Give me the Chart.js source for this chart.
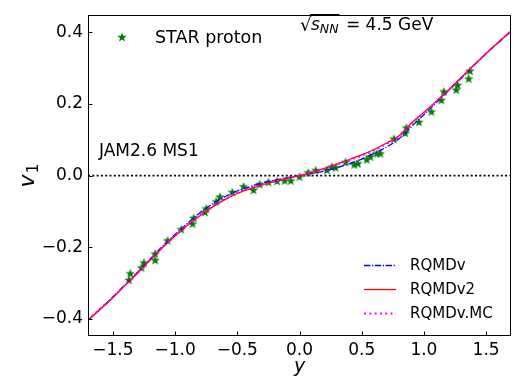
<!DOCTYPE html>
<html>
<head>
<meta charset="utf-8">
<script src="https://cdn.jsdelivr.net/npm/chart.js@4.4.1/dist/chart.umd.min.js"></script>
<style>
html,body{margin:0;padding:0;background:#fff;}
#c{display:block;}
</style>
</head>
<body>
<canvas id="c" width="523" height="392"></canvas>
<script>
// ---- data ----
const starX = [-1.37,-1.36,-1.27,-1.25,-1.16,-1.16,-1.06,-0.95,-0.86,-0.85,-0.76,-0.75,-0.67,-0.64,-0.54,-0.45,-0.37,-0.32,-0.25,-0.18,-0.12,-0.07,0.00,0.07,0.13,0.22,0.26,0.29,0.37,0.44,0.47,0.54,0.57,0.62,0.65,0.76,0.85,0.86,0.96,1.06,1.14,1.16,1.26,1.27,1.36,1.37];
const starY = [-0.291,-0.273,-0.257,-0.243,-0.236,-0.218,-0.181,-0.150,-0.134,-0.118,-0.102,-0.092,-0.072,-0.059,-0.046,-0.030,-0.040,-0.024,-0.018,-0.015,-0.014,-0.014,-0.003,0.009,0.015,0.016,0.025,0.023,0.038,0.031,0.034,0.045,0.053,0.062,0.062,0.103,0.119,0.134,0.150,0.179,0.211,0.235,0.240,0.253,0.271,0.293];

const curveX = [-1.7,-1.6,-1.5,-1.4,-1.3,-1.2,-1.1,-1.0,-0.9,-0.8,-0.7,-0.6,-0.5,-0.4,-0.3,-0.2,-0.1,0.0,0.1,0.2,0.3,0.4,0.5,0.6,0.7,0.8,0.9,1.0,1.1,1.2,1.3,1.4,1.5,1.6,1.7];
const rqmdv   = [-0.404,-0.372,-0.339,-0.304,-0.269,-0.233,-0.197,-0.164,-0.133,-0.104,-0.079,-0.059,-0.043,-0.031,-0.021,-0.013,-0.006,0.000,0.006,0.013,0.022,0.033,0.046,0.062,0.080,0.103,0.137,0.170,0.204,0.238,0.272,0.307,0.341,0.372,0.403];
const rqmdv2  = [-0.404,-0.373,-0.341,-0.306,-0.272,-0.236,-0.201,-0.169,-0.139,-0.112,-0.088,-0.067,-0.050,-0.037,-0.026,-0.017,-0.008,0.000,0.009,0.020,0.032,0.045,0.058,0.073,0.091,0.111,0.147,0.177,0.208,0.240,0.274,0.308,0.341,0.373,0.403];
const rqmdvMC = [-0.403,-0.371,-0.339,-0.305,-0.271,-0.235,-0.200,-0.167,-0.137,-0.110,-0.086,-0.065,-0.048,-0.035,-0.025,-0.016,-0.008,0.000,0.008,0.019,0.031,0.043,0.056,0.071,0.089,0.110,0.145,0.175,0.206,0.239,0.273,0.307,0.341,0.372,0.404];

const xTicks = [-1.5,-1.0,-0.5,0.0,0.5,1.0,1.5];
const yTicks = [-0.4,-0.2,0.0,0.2,0.4];
const xRange = [-1.7, 1.7];
const yRange = [-0.448, 0.448];

// ---- star marker ----
function makeStar(size, color){
  const c = document.createElement('canvas');
  c.width = size; c.height = size;
  const g = c.getContext('2d');
  const cx = size/2, cy = size/2 + 0.4, R = size/2, r = R*0.42;
  g.beginPath();
  for(let i=0;i<10;i++){
    const ang = -Math.PI/2 + i*Math.PI/5;
    const rad = (i%2===0)?R:r;
    const px = cx + rad*Math.cos(ang), py = cy + rad*Math.sin(ang);
    if(i===0) g.moveTo(px,py); else g.lineTo(px,py);
  }
  g.closePath();
  g.fillStyle = color; g.fill();
  return c;
}
const starImg = makeStar(10, '#008000');

const pts = (xs, ys) => xs.map((x,i)=>({x:x, y:ys[i]}));
const fmt = v => { const s = Number(v).toFixed(1); return (Math.abs(v)<1e-9) ? '0.0' : s.replace('-', '\u2212'); };
const FONT = 'DejaVu Sans';

const decor = {
  id: 'decor',
  afterDatasetsDraw(chart){
    const ctx = chart.ctx, a = chart.chartArea;
    const xs = chart.scales.x, ys = chart.scales.y;
    ctx.save();
    // frame
    ctx.strokeStyle = '#000'; ctx.lineWidth = 1;
    ctx.strokeRect(Math.round(a.left)+0.5, Math.round(a.top)+0.5, Math.round(a.right-a.left)-1, Math.round(a.bottom-a.top)-1);
    // inward ticks
    ctx.beginPath();
    xTicks.forEach(v=>{ const px = Math.round(xs.getPixelForValue(v))+0.5; ctx.moveTo(px, a.bottom); ctx.lineTo(px, a.bottom-4.5); });
    yTicks.forEach(v=>{ const py = Math.round(ys.getPixelForValue(v))+0.5; ctx.moveTo(a.left, py); ctx.lineTo(a.left+4.5, py); });
    ctx.stroke();

    // axis titles
    ctx.fillStyle = '#000';
    ctx.save();
    ctx.translate(27, (a.top+a.bottom)/2);
    ctx.rotate(-Math.PI/2);
    ctx.font = 'italic 22px ' + FONT;
    ctx.textBaseline = 'alphabetic';
    const vw = ctx.measureText('v').width;
    ctx.font = '15px ' + FONT;
    const ow = ctx.measureText('1').width;
    const tot = vw + ow + 1;
    ctx.font = 'italic 22px ' + FONT;
    ctx.fillText('v', -tot/2, 7);
    ctx.font = '15px ' + FONT;
    ctx.fillText('1', -tot/2 + vw + 1, 11);
    ctx.restore();

    ctx.font = 'italic 19px ' + FONT;
    ctx.textAlign = 'center'; ctx.textBaseline = 'middle';
    ctx.fillText('y', xs.getPixelForValue(0), 367);

    // STAR legend
    const sd = chart.data.datasets[0];
    ctx.drawImage(starImg, 122-5, 37-5);
    ctx.font = '17.5px ' + FONT;
    ctx.textAlign = 'left'; ctx.textBaseline = 'middle';
    ctx.fillText(sd.label, 155, 38);

    // JAM label
    ctx.font = '17px ' + FONT;
    ctx.fillText('JAM2.6 MS1', 99, 152);

    // sqrt(s_NN) = 4.5 GeV
    ctx.textBaseline = 'alphabetic';
    let x = 300; const base = 30;
    ctx.font = '18px ' + FONT;
    ctx.fillText('\u221A', x, base+1);
    x += ctx.measureText('\u221A').width - 0.5;
    const barStart = x;
    ctx.font = 'italic 17px ' + FONT;
    ctx.fillText('s', x, base);
    x += ctx.measureText('s').width;
    ctx.font = 'italic 12.5px ' + FONT;
    ctx.fillText('NN', x, base+3);
    x += ctx.measureText('NN').width + 1;
    ctx.beginPath(); ctx.lineWidth = 1;
    ctx.moveTo(barStart-1, 14.5); ctx.lineTo(x, 14.5); ctx.stroke();
    ctx.font = '17px ' + FONT;
    ctx.fillText(' = 4.5 GeV', x+1, base);

    // model legend
    const rows = [[1,265],[2,289],[3,313]];
    ctx.font = '15px ' + FONT;
    ctx.textBaseline = 'middle';
    rows.forEach(([di, yy])=>{
      const d = chart.data.datasets[di];
      ctx.save();
      ctx.strokeStyle = d.borderColor; ctx.lineWidth = d.borderWidth;
      ctx.setLineDash(d.borderDash || []);
      ctx.beginPath(); ctx.moveTo(364, yy+0.5); ctx.lineTo(396, yy+0.5); ctx.stroke();
      ctx.restore();
      ctx.fillStyle = '#000';
      ctx.fillText(d.label, 410, yy+1);
    });
    ctx.restore();
  }
};

new Chart(document.getElementById('c'), {
  type: 'scatter',
  data: {
    datasets: [
      { label: 'STAR proton', data: pts(starX, starY), pointStyle: starImg, pointRadius: 5, showLine: false, order: 5, backgroundColor: '#008000', borderColor: '#008000' },
      { label: 'RQMDv', data: pts(curveX, rqmdv), showLine: true, pointRadius: 0, borderColor: '#0000ff', borderWidth: 1.3, borderDash: [6.4,1.6,1.2,1.6], cubicInterpolationMode: 'monotone', order: 4 },
      { label: 'RQMDv2', data: pts(curveX, rqmdv2), showLine: true, pointRadius: 0, borderColor: '#ff0000', borderWidth: 1.3, cubicInterpolationMode: 'monotone', order: 3 },
      { label: 'RQMDv.MC', data: pts(curveX, rqmdvMC), showLine: true, pointRadius: 0, borderColor: '#ff00ff', borderWidth: 2, borderDash: [2,3.3], cubicInterpolationMode: 'monotone', order: 2 },
      { label: 'zero', data: pts(xRange, [0,0]), showLine: true, pointRadius: 0, borderColor: '#000', borderWidth: 1.8, borderDash: [2,2.3], order: 6 }
    ]
  },
  options: {
    responsive: false,
    devicePixelRatio: 1,
    animation: false,
    layout: { padding: { top: 12, right: 12, left: 0, bottom: 0 } },
    plugins: { legend: { display: false }, tooltip: { enabled: false } },
    scales: {
      x: {
        type: 'linear', min: xRange[0], max: xRange[1],
        afterBuildTicks: s => { s.ticks = xTicks.map(v=>({value:v})); },
        afterFit: s => { s.height = 56; },
        grid: { display: false, drawTicks: false },
        border: { display: false },
        ticks: { callback: v => fmt(v), color: '#000', font: { family: FONT, size: 17 }, padding: 4, maxRotation: 0, autoSkip: false }
      },
      y: {
        type: 'linear', min: yRange[0], max: yRange[1],
        afterBuildTicks: s => { s.ticks = yTicks.map(v=>({value:v})); },
        afterFit: s => { s.width = 88; },
        grid: { display: false, drawTicks: false },
        border: { display: false },
        ticks: { callback: v => fmt(v), color: '#000', font: { family: FONT, size: 17 }, padding: 5, autoSkip: false }
      }
    }
  },
  plugins: [decor]
});
</script>
</body>
</html>
